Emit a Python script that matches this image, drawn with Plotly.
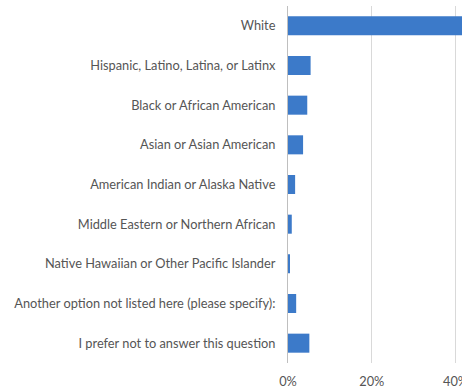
import plotly.graph_objects as go

categories = [
    "White",
    "Hispanic, Latino, Latina, or Latinx",
    "Black or African American",
    "Asian or Asian American",
    "American Indian or Alaska Native",
    "Middle Eastern or Northern African",
    "Native Hawaiian or Other Pacific Islander",
    "Another option not listed here (please specify):",
    "I prefer not to answer this question",
]
values = [0.78, 0.054, 0.046, 0.036, 0.017, 0.009, 0.004, 0.0195, 0.051]
x_tickvals = [0, 0.2, 0.4]
x_ticktext = ["0%", "20%", "40%"]

fig = go.Figure(go.Bar(
    y=categories, x=values, orientation="h",
    marker=dict(color="#3C7AC9", line=dict(width=0)),
    width=0.48,
))

fig.update_layout(
    width=462, height=390,
    margin=dict(l=287.5, r=0, t=6, b=27),
    paper_bgcolor="white", plot_bgcolor="white",
    font=dict(family="Lato", size=12.8, color="#555555"),
    showlegend=False,
)
fig.update_xaxes(
    range=[0, 0.4155], tickvals=x_tickvals, ticktext=x_ticktext,
    showgrid=True, gridcolor="#D9D9D9", gridwidth=1,
    zeroline=False, showline=False, ticks="",
    ticklabeloverflow="allow", automargin=False,
    ticklabelstandoff=9,
)
fig.update_yaxes(
    autorange="reversed", showgrid=False, ticks="",
    showline=True, linecolor="#BFBFBF", linewidth=1,
    ticklabelstandoff=9, automargin=False,
)

fig.write_html(
    "out.html",
    config={"displayModeBar": False},
    post_script="document.body.style.margin='0';document.body.style.overflow='hidden';",
)
